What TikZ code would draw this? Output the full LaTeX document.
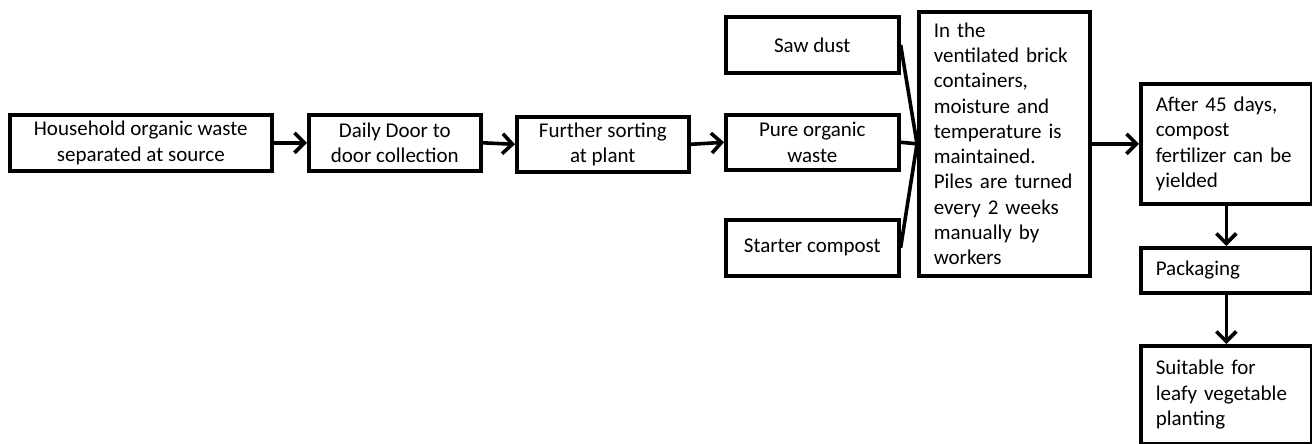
\documentclass[tikz,border=0pt]{standalone}
\usepackage{fontspec}
\setmainfont{Carlito}
\usetikzlibrary{arrows.meta}
\begin{document}
\begin{tikzpicture}[x=1pt,y=-1pt,
  every node/.style={font=\fontsize{21}{25.3}\selectfont},
  box/.style={draw,line width=3.6pt,rectangle,anchor=north west,inner sep=0pt,align=center},
  lbox/.style={draw,line width=3.6pt,rectangle,anchor=north west,inner xsep=15pt,inner ysep=0pt,
    text width=141pt,align=left},
  link/.style={line width=3.6pt},
  arr/.style={line width=3.6pt,-{Straight Barb[length=10pt,width=20pt]}}]
\useasboundingbox (0,0) rectangle (1312,444);

% main row
\node[box,minimum width=262pt,minimum height=56pt] (src) at (8,113)
  {Household organic waste\\separated at source};
\node[box,minimum width=172pt,minimum height=56pt] (door) at (307,113)
  {Daily Door to\\door collection};
\node[box,minimum width=172pt,minimum height=55pt] (sort) at (515,115)
  {Further sorting\\at plant};

% inputs to the composting containers
\node[box,minimum width=173pt,minimum height=56pt] (saw) at (724,15) {Saw dust};
\node[box,minimum width=173pt,minimum height=55pt] (pure) at (724,113)
  {Pure organic\\waste};
\node[box,minimum width=173pt,minimum height=56pt] (starter) at (724,218)
  {Starter compost};

% composting, output and packaging
\node[lbox,minimum height=264pt] (brick) at (917,10)
  {In the\\ventilated brick\\containers,\\moisture and\\temperature is\\maintained.\\Piles are turned\\every 2 weeks\\manually by\\workers};
\node[lbox,minimum height=120pt] (yield) at (1139,82)
  {After 45 days,\\compost\\fertilizer can be\\yielded};
\node[lbox,minimum height=45pt] (pack) at (1139,246) {Packaging};
\node[lbox,minimum height=98pt] (leafy) at (1139,344)
  {Suitable for\\leafy vegetable\\planting};

% connectors
\draw[arr] (src.east) -- (door.west);
\draw[arr] (door.east) -- (sort.west);
\draw[arr] (sort.east) -- (pure.west);
\draw[link] (saw.east) -- (brick.west);
\draw[link] (pure.east) -- (brick.west);
\draw[link] (starter.east) -- (brick.west);
\draw[arr] (brick.east) -- (brick.east -| yield.west);
\draw[arr] (yield.south) -- (pack.north);
\draw[arr] (pack.south) -- (leafy.north);
\end{tikzpicture}
\end{document}
